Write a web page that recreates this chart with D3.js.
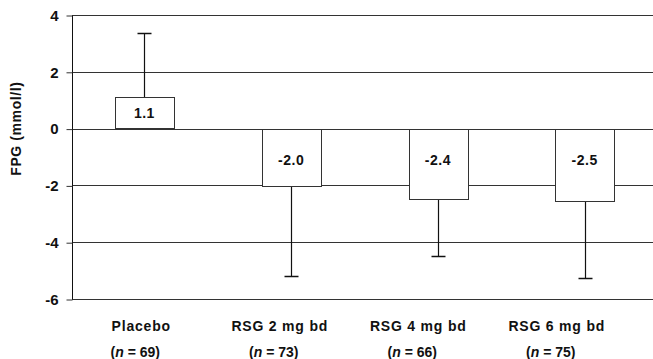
<!DOCTYPE html>
<html><head><meta charset="utf-8">
<script src="https://cdn.jsdelivr.net/npm/d3@7"></script>
<style>body{margin:0;background:#fff}svg{display:block;font-family:"Liberation Sans",Arial,sans-serif}</style>
</head><body><svg id="c" width="653" height="359"></svg>
<script>
const categories = ["Placebo", "RSG 2 mg bd", "RSG 4 mg bd", "RSG 6 mg bd"];
const nValues = ["69", "73", "66", "75"];
const means = [1.1, -2.0, -2.45, -2.55];
const meanLabels = ["1.1", "-2.0", "-2.4", "-2.5"];
const errorEnds = [3.35, -5.2, -4.5, -5.27];
const yTicks = [4, 2, 0, -2, -4, -6];

const svg = d3.select("#c");
const mLeft = 72, mRight = 653, mTop = 15, mBottom = 299;
const y = d3.scaleLinear().domain([-6, 4]).range([mBottom, mTop]);
const x = d3.scaleBand().domain(categories).range([71, 658]).paddingInner(0.6).paddingOuter(0.3);
const xl = d3.scaleBand().domain(categories).range([72, 626]);

// gridlines
svg.append("g").selectAll("line").data(yTicks).join("line")
  .attr("x1", mLeft).attr("x2", mRight)
  .attr("y1", d => Math.round(y(d)) + 0.5).attr("y2", d => Math.round(y(d)) + 0.5)
  .attr("stroke", "#333").attr("stroke-width", 1);

// y axis
const yAxis = d3.axisLeft(y).tickValues(yTicks).tickSize(6).tickPadding(8).tickFormat(d => String(d));
const ga = svg.append("g").attr("transform", `translate(${mLeft + 0.5},0.5)`).call(yAxis);
ga.attr("font-size", null).attr("font-family", null);
ga.select(".domain").attr("stroke", "#111").attr("d", `M0,${y(4)}V${y(-6)}`);
ga.selectAll(".tick line").attr("stroke", "#333");
ga.selectAll("text").style("font-size", "15px").style("font-weight", "bold").attr("fill", "#111");

// y title
svg.append("text").attr("transform", `translate(21,${y(0)}) rotate(-90)`)
  .attr("text-anchor", "middle").style("font-size", "14px").style("font-weight", "bold").attr("fill", "#111")
  .attr("letter-spacing", 0.6).text("FPG (mmol/l)");

// error bars
const eb = svg.append("g");
categories.forEach((c, i) => {
  const cx = Math.round(x(c) + x.bandwidth() / 2) + 0.5;
  eb.append("line").attr("x1", cx).attr("x2", cx).attr("y1", y(means[i])).attr("y2", y(errorEnds[i]))
    .attr("stroke", "#111").attr("stroke-width", 1.2);
  eb.append("line").attr("x1", cx - 7).attr("x2", cx + 7).attr("y1", Math.round(y(errorEnds[i])) + 0.5).attr("y2", Math.round(y(errorEnds[i])) + 0.5)
    .attr("stroke", "#111").attr("stroke-width", 1.5);
});

// bars
svg.append("g").selectAll("rect").data(categories).join("rect")
  .attr("x", c => Math.round(x(c)) + 0.5)
  .attr("width", Math.round(x.bandwidth()))
  .attr("y", (c, i) => Math.round(y(Math.max(0, means[i]))) + 0.5)
  .attr("height", (c, i) => Math.round(Math.abs(y(means[i]) - y(0))))
  .attr("fill", "#fff").attr("stroke", "#333").attr("stroke-width", 1);

// value labels
svg.append("g").selectAll("text").data(categories).join("text")
  .attr("x", c => x(c) + x.bandwidth() / 2)
  .attr("y", (c, i) => means[i] > 0 ? (y(means[i]) + y(0)) / 2 + 5 : y(0) + 36)
  .attr("text-anchor", "middle").style("font-size", "14px").style("font-weight", "bold").attr("fill", "#111")
  .attr("letter-spacing", 0.5).text((c, i) => meanLabels[i]);

// category labels
const lab = svg.append("g");
categories.forEach((c, i) => {
  const cx = xl(c) + xl.bandwidth() / 2;
  lab.append("text").attr("x", cx).attr("y", 331).attr("text-anchor", "middle")
    .style("font-size", "14px").style("font-weight", "bold").attr("fill", "#111").attr("letter-spacing", 0.8).text(c);
  const t = lab.append("text").attr("x", cx - 6).attr("y", 357).attr("text-anchor", "middle")
    .style("font-size", "14px").attr("fill", "#111").style("font-weight", "bold");
  t.append("tspan").text("(");
  t.append("tspan").attr("font-style", "italic").text("n");
  t.append("tspan").text(" = " + nValues[i] + ")");
});
</script></body></html>
